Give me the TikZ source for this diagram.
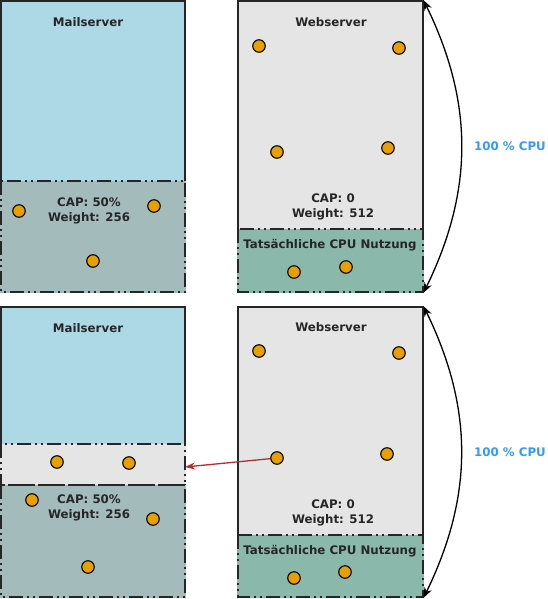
\documentclass[tikz,border=0pt]{standalone}
\usepackage{fontspec}
\setmainfont{DejaVu Sans}
\usetikzlibrary{arrows.meta}
\definecolor{mailblue}{HTML}{ADD8E6}
\definecolor{capgray}{HTML}{A3BBBB}
\definecolor{usegreen}{HTML}{8AB8AA}
\definecolor{lgray}{HTML}{E5E5E5}
\definecolor{dot}{HTML}{E8A000}
\definecolor{cpublue}{HTML}{3399FF}
\definecolor{redarrow}{HTML}{B03030}
\tikzset{
  lbl/.style={font=\fontsize{11.8}{14.5}\selectfont\bfseries, text=black!85, inner sep=0pt, align=center},
  ddd/.style={draw=black!85, line width=1.8pt, dash pattern=on 14pt off 4pt on 2pt off 4pt on 2pt off 4pt},
  outer/.style={draw=black!85, line width=1.3pt, inner sep=0pt},
  proc/.style={circle, draw=black, line width=1.1pt, fill=dot, minimum size=12.5pt, inner sep=0pt},
  cpuarc/.style={line width=1.3pt, {Stealth[length=10pt,width=8pt]}-{Stealth[length=10pt,width=8pt]}},
  cpulbl/.style={font=\fontsize{11.8}{14.5}\selectfont\bfseries, text=cpublue, inner sep=0pt}
}
\begin{document}
\begin{tikzpicture}[x=1pt,y=-1pt]
\useasboundingbox (0,0) rectangle (548,599);
% ===== Top row =====
% Mailserver
\node[outer, fill=mailblue, minimum width=184pt, minimum height=291pt] (m1) at (93,146.5) {};
\fill[capgray] (0,181) rectangle (186,293);
\draw[ddd] (1,181) rectangle (185,292);
\node[lbl] at (88,22) {Mailserver};
\node[lbl] at (89,211) {CAP: 50\%\\Weight: 256};
\node[proc] (m1a) at (19,211) {};
\node[proc] (m1b) at (154,206) {};
\node[proc] (m1c) at (93,261) {};
% Webserver
\node[outer, fill=lgray, minimum width=185pt, minimum height=291pt] (w1) at (330.5,146.5) {};
\fill[usegreen] (237,229) rectangle (424,293);
\draw[ddd] (238,229) rectangle (423,292);
\node[lbl] at (331,22) {Webserver};
\node[lbl] at (333,207) {CAP: 0\\Weight: 512};
\node[lbl] at (330,245) {Tatsächliche CPU Nutzung};
\node[proc] (w1a) at (259,46) {};
\node[proc] (w1b) at (399,48) {};
\node[proc] (w1c) at (277,152) {};
\node[proc] (w1d) at (388,148) {};
\node[proc] (w1e) at (294,272) {};
\node[proc] (w1f) at (346,267) {};
\draw[cpuarc] (w1.north east) to[bend left=26] (w1.south east);
\node[cpulbl] at (510,146) {100 \% CPU};
% ===== Bottom row =====
% Mailserver
\node[outer, fill=mailblue, minimum width=184pt, minimum height=290pt] (m2) at (93,452) {};
\fill[lgray] (0,444) rectangle (186,485);
\fill[capgray] (0,485) rectangle (186,598);
\draw[ddd] (1,444) rectangle (185,485);
\draw[ddd] (1,485) rectangle (185,597);
\coordinate (m2in) at (185,467);
\node[lbl] at (88,328) {Mailserver};
\node[lbl] at (89,508) {CAP: 50\%\\Weight: 256};
\node[proc] (m2a) at (57,462) {};
\node[proc] (m2b) at (129,463) {};
\node[proc] (m2c) at (32,500) {};
\node[proc] (m2d) at (153,519) {};
\node[proc] (m2e) at (88,567) {};
% Webserver
\node[outer, fill=lgray, minimum width=185pt, minimum height=290pt] (w2) at (330.5,452) {};
\fill[usegreen] (237,535) rectangle (424,598);
\draw[ddd] (238,535) rectangle (423,597);
\node[lbl] at (331,327) {Webserver};
\node[lbl] at (333,513) {CAP: 0\\Weight: 512};
\node[lbl] at (330,551) {Tatsächliche CPU Nutzung};
\node[proc] (w2a) at (259,351) {};
\node[proc] (w2b) at (399,353) {};
\node[proc] (w2c) at (277,458) {};
\node[proc] (w2d) at (387,454) {};
\node[proc] (w2e) at (294,578) {};
\node[proc] (w2f) at (345,572) {};
\draw[cpuarc] (w2.north east) to[bend left=26] (w2.south east);
\node[cpulbl] at (510,452) {100 \% CPU};
\draw[redarrow, line width=1.3pt, -{Stealth[length=10pt,width=7pt]}] (w2c) -- (m2in);
\end{tikzpicture}
\end{document}
